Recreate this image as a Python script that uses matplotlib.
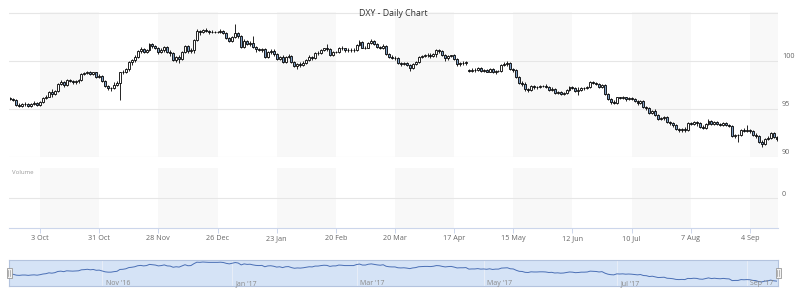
import matplotlib.pyplot as plt
from matplotlib.patches import Rectangle
import matplotlib.transforms as mtransforms
import numpy as np
import pandas as pd

plt.rcParams['font.family'] = ['Open Sans', 'DejaVu Sans']

# daily DXY candles, one row per week (Mon..Fri), 19 Sep 2016 .. 15 Sep 2017
start_date = '2016-09-19'
end_date = '2017-09-15'

opens = [
    96.1, 96.0, 95.9, 95.4, 95.3,   95.5, 95.5, 95.3, 95.5, 95.6,
    95.4, 95.7, 96.1, 96.3, 96.8,   96.6, 96.9, 97.6, 97.8, 97.5,
    98.0, 97.9, 97.8, 97.9, 98.0,   98.6, 98.7, 98.9, 98.6, 98.8,
    98.3, 98.4, 97.9, 97.4, 97.2,   97.2, 97.5, 97.7, 98.8, 98.9,
    99.2, 99.9, 100.1, 100.4, 101.0, 101.2, 100.9, 101.1, 101.8, 101.6,
    101.4, 100.9, 101.1, 101.5, 100.9, 100.8, 100.1, 100.4, 100.2, 100.9,
    101.6, 101.0, 101.1, 102.2, 103.1, 103.0, 103.2, 103.1, 103.0, 103.0,
    103.0, 103.0, 103.1, 102.9, 102.4, 102.1, 102.5, 102.9, 102.6, 101.5,
    102.1, 101.8, 101.9, 101.5, 101.2, 101.1, 101.2, 100.4, 100.9, 101.0,
    100.7, 100.2, 100.4, 99.9, 100.4, 100.5, 99.9, 99.5, 99.7, 99.6,
    99.8, 100.1, 100.4, 100.3, 100.8, 100.8, 101.1, 101.3, 101.2, 100.6,
    100.9, 100.9, 101.4, 101.3, 101.1, 101.1, 101.1, 101.1, 101.7, 102.0,
    101.4, 101.4, 101.9, 102.1, 101.8, 101.5, 101.3, 101.6, 100.7, 100.4,
    100.3, 100.3, 99.8, 99.7, 99.8,  99.6, 99.3, 99.7, 99.9, 100.4,
    100.5, 100.6, 100.6, 100.5, 100.7, 101.1, 101.0, 100.6, 100.3, 100.5,
    100.6, 100.2, 99.7, 99.8, 99.8,  99.1, 99.0, 99.1, 99.1, 99.3,
    99.0, 99.1, 98.9, 99.2, 98.8,   99.0, 99.0, 99.6, 99.7, 99.8,
    99.2, 99.1, 98.3, 97.7, 97.6,   97.1, 97.0, 97.4, 97.3, 97.3,
    97.4, 97.4, 97.3, 97.0, 97.1,   96.7, 96.8, 96.6, 96.7, 97.0,
    97.3, 97.2, 96.9, 97.0, 97.2,   97.2, 97.3, 97.8, 97.7, 97.6,
    97.3, 97.5, 96.6, 96.0, 95.7,   95.6, 96.2, 96.1, 96.2, 96.0,
    96.1, 96.0, 95.8, 95.6, 95.8,   95.2, 95.1, 94.6, 94.8, 94.4,
    94.0, 94.1, 94.2, 93.6, 93.5,   93.3, 92.9, 92.8, 92.9, 92.8,
    93.5, 93.4, 93.6, 93.5, 93.1,   93.0, 93.4, 93.8, 93.4, 93.6,
    93.4, 93.3, 93.5, 93.3, 93.2,   92.2, 92.3, 92.3, 92.8, 92.7,
    92.8, 92.7, 92.3, 92.2, 91.6,   91.4, 91.9, 92.0, 92.5, 92.1,
]
highs = [
    96.2, 96.1, 96.0, 95.6, 95.6,   95.7, 95.6, 95.6, 95.8, 95.7,
    95.8, 96.2, 96.5, 96.9, 97.1,   97.0, 97.7, 98.0, 97.9, 98.1,
    98.1, 98.0, 98.0, 98.1, 98.7,   98.8, 99.0, 99.0, 98.9, 98.9,
    98.6, 98.5, 98.0, 97.5, 97.3,   97.8, 97.9, 98.9, 99.1, 99.3,
    100.0, 100.2, 100.6, 101.1, 101.5, 101.3, 101.2, 101.9, 101.9, 101.7,
    101.5, 101.3, 101.6, 101.6, 101.1, 100.9, 100.5, 100.6, 101.0, 101.7,
    101.7, 101.3, 102.3, 103.3, 103.2, 103.3, 103.4, 103.2, 103.2, 103.1,
    103.1, 103.3, 103.2, 103.0, 102.5, 102.6, 103.8, 103.0, 102.7, 102.3,
    102.2, 102.1, 102.6, 101.6, 101.4, 101.3, 101.3, 101.0, 101.2, 101.2,
    100.8, 100.5, 100.6, 100.5, 100.7, 100.6, 100.0, 99.8, 99.9, 100.0,
    100.2, 100.6, 100.5, 100.9, 101.0, 101.2, 101.4, 101.8, 101.3, 101.0,
    101.0, 101.5, 101.6, 101.4, 101.3, 101.3, 101.3, 101.8, 102.2, 102.1,
    101.6, 102.0, 102.3, 102.2, 101.9, 101.6, 101.8, 101.7, 100.8, 100.6,
    100.5, 100.4, 99.9, 99.9, 99.9,  99.7, 99.8, 100.0, 100.5, 100.6,
    100.7, 100.8, 100.8, 100.8, 101.2, 101.2, 101.1, 100.7, 100.6, 100.6,
    100.7, 100.3, 99.9, 100.0, 100.0, 99.2, 99.3, 99.3, 99.4, 99.4,
    99.2, 99.2, 99.3, 99.3, 99.1,   99.1, 99.7, 99.9, 100.0, 99.9,
    99.3, 99.2, 98.4, 97.9, 97.8,   97.2, 97.5, 97.5, 97.4, 97.5,
    97.5, 97.6, 97.4, 97.3, 97.2,   96.9, 96.9, 96.8, 97.1, 97.4,
    97.4, 97.3, 97.3, 97.3, 97.3,   97.4, 97.9, 97.9, 97.8, 97.7,
    97.6, 97.6, 96.7, 96.1, 95.9,   96.3, 96.3, 96.4, 96.3, 96.2,
    96.2, 96.1, 95.9, 95.9, 95.9,   95.3, 95.2, 94.9, 95.0, 94.5,
    94.2, 94.3, 94.3, 93.8, 93.6,   93.4, 93.0, 93.0, 93.1, 93.6,
    93.6, 93.7, 93.7, 93.6, 93.3,   93.5, 94.0, 93.9, 93.7, 93.7,
    93.5, 93.6, 93.6, 93.4, 93.3,   92.4, 92.4, 92.9, 93.0, 93.3,
    92.9, 92.8, 92.5, 92.3, 91.8,   92.0, 92.2, 92.6, 92.6, 92.2,
]
lows = [
    95.9, 95.8, 95.3, 95.2, 95.2,   95.3, 95.2, 95.2, 95.4, 95.3,
    95.3, 95.6, 96.0, 96.2, 96.3,   96.5, 96.8, 97.5, 97.3, 97.4,
    97.8, 97.6, 97.6, 97.7, 97.9,   98.5, 98.6, 98.5, 98.5, 98.2,
    98.2, 97.8, 97.3, 97.0, 96.9,   97.1, 97.4, 95.9, 98.6, 98.7,
    99.0, 99.6, 99.9, 100.3, 100.8, 100.8, 100.8, 101.0, 101.4, 101.2,
    100.7, 100.8, 100.9, 100.8, 100.5, 100.0, 99.9, 99.8, 100.1, 100.8,
    100.8, 100.8, 100.8, 102.1, 102.7, 102.9, 103.0, 102.8, 102.9, 102.9,
    102.9, 102.9, 102.8, 102.3, 102.0, 102.0, 102.4, 102.4, 101.3, 101.4,
    101.7, 101.6, 101.3, 100.9, 101.0, 100.9, 100.3, 100.3, 100.7, 100.5,
    100.1, 100.1, 99.8, 99.8, 100.3, 99.8, 99.4, 99.2, 99.4, 99.5,
    99.7, 100.0, 100.1, 100.2, 100.6, 100.7, 101.0, 101.0, 100.5, 100.5,
    100.8, 100.8, 101.1, 100.9, 100.9, 100.9, 100.9, 101.0, 101.6, 101.3,
    101.2, 101.3, 101.8, 101.7, 101.3, 101.2, 101.2, 100.6, 100.3, 100.2,
    100.1, 99.7, 99.5, 99.6, 99.5,  99.0, 99.2, 99.6, 99.8, 100.3,
    100.4, 100.4, 100.3, 100.4, 100.4, 100.8, 100.5, 100.0, 100.1, 100.4,
    100.1, 99.5, 99.5, 99.6, 99.6,  98.9, 98.9, 98.9, 99.0, 98.9,
    98.9, 98.8, 98.8, 98.7, 98.6,   98.8, 98.9, 99.5, 99.5, 99.1,
    98.9, 98.2, 97.6, 97.4, 96.9,   96.8, 96.9, 97.1, 97.1, 97.2,
    97.3, 97.2, 96.9, 96.9, 96.6,   96.6, 96.5, 96.5, 96.6, 96.9,
    97.1, 96.8, 96.5, 96.9, 97.0,   97.1, 97.2, 97.6, 97.5, 97.2,
    97.2, 96.5, 95.9, 95.5, 95.5,   95.5, 96.0, 96.0, 95.8, 95.9,
    95.9, 95.7, 95.4, 95.5, 95.1,   94.9, 94.5, 94.5, 94.3, 93.9,
    93.9, 93.9, 93.5, 93.3, 93.1,   92.8, 92.6, 92.6, 92.6, 92.7,
    93.3, 93.3, 93.2, 93.0, 92.9,   92.9, 93.3, 93.3, 93.3, 93.3,
    93.2, 93.2, 93.2, 93.1, 92.1,   92.0, 91.6, 92.2, 92.6, 92.6,
    92.5, 92.2, 92.0, 91.5, 91.0,   91.3, 91.8, 91.9, 92.0, 91.7,
]
closes = [
    96.0, 95.9, 95.4, 95.3, 95.5,   95.5, 95.3, 95.5, 95.6, 95.4,
    95.7, 96.1, 96.3, 96.8, 96.6,   96.9, 97.6, 97.8, 97.5, 98.0,
    97.9, 97.8, 97.9, 98.0, 98.6,   98.7, 98.9, 98.6, 98.8, 98.3,
    98.4, 97.9, 97.4, 97.2, 97.2,   97.5, 97.7, 98.8, 98.9, 99.2,
    99.9, 100.1, 100.4, 101.0, 101.2, 100.9, 101.1, 101.8, 101.6, 101.4,
    100.9, 101.1, 101.5, 100.9, 100.8, 100.1, 100.4, 100.2, 100.9, 101.6,
    101.0, 101.1, 102.2, 103.1, 103.0, 103.2, 103.1, 103.0, 103.0, 103.0,
    103.0, 103.1, 102.9, 102.4, 102.1, 102.5, 102.9, 102.6, 101.5, 102.1,
    101.8, 101.9, 101.5, 101.2, 101.1, 101.2, 100.4, 100.9, 101.0, 100.7,
    100.2, 100.4, 99.9, 100.4, 100.5, 99.9, 99.5, 99.7, 99.6, 99.8,
    100.1, 100.4, 100.3, 100.8, 100.8, 101.1, 101.3, 101.2, 100.6, 100.9,
    100.9, 101.4, 101.3, 101.1, 101.1, 101.1, 101.1, 101.7, 102.0, 101.4,
    101.4, 101.9, 102.1, 101.8, 101.5, 101.3, 101.6, 100.7, 100.4, 100.3,
    100.3, 99.8, 99.7, 99.8, 99.6,  99.3, 99.7, 99.9, 100.4, 100.5,
    100.6, 100.6, 100.5, 100.7, 101.1, 101.0, 100.6, 100.3, 100.5, 100.6,
    100.2, 99.7, 99.8, 99.8, 99.9,  99.0, 99.1, 99.1, 99.3, 99.0,
    99.1, 98.9, 99.2, 98.8, 99.0,   99.0, 99.6, 99.7, 99.8, 99.2,
    99.1, 98.3, 97.7, 97.6, 97.1,   97.0, 97.4, 97.3, 97.3, 97.4,
    97.4, 97.3, 97.0, 97.1, 96.7,   96.8, 96.6, 96.7, 97.0, 97.3,
    97.2, 96.9, 97.0, 97.2, 97.2,   97.3, 97.8, 97.7, 97.6, 97.3,
    97.5, 96.6, 96.0, 95.7, 95.6,   96.2, 96.1, 96.2, 96.0, 96.1,
    96.0, 95.8, 95.6, 95.8, 95.2,   95.1, 94.6, 94.8, 94.4, 94.0,
    94.1, 94.2, 93.6, 93.5, 93.3,   92.9, 92.8, 92.9, 92.8, 93.5,
    93.4, 93.6, 93.5, 93.1, 93.0,   93.4, 93.8, 93.4, 93.6, 93.4,
    93.3, 93.5, 93.3, 93.2, 92.2,   92.3, 92.3, 92.8, 92.7, 92.8,
    92.7, 92.3, 92.2, 91.6, 91.4,   91.9, 92.0, 92.5, 92.1, 91.9,
]

x_tick_dates = ['2016-10-03', '2016-10-31', '2016-11-28', '2016-12-26', '2017-01-23',
                '2017-02-20', '2017-03-20', '2017-04-17', '2017-05-15', '2017-06-12',
                '2017-07-10', '2017-08-07', '2017-09-04']
x_tick_labels = ['3 Oct', '31 Oct', '28 Nov', '26 Dec', '23 Jan', '20 Feb', '20 Mar',
                 '17 Apr', '15 May', '12 Jun', '10 Jul', '7 Aug', '4 Sep']
nav_dates = ['2016-11-01', '2017-01-02', '2017-03-01', '2017-05-01', '2017-07-03', '2017-09-01']
nav_labels = ["Nov '16", "Jan '17", "Mar '17", "May '17", "Jul '17", "Sep '17"]
y_ticks = [90, 95, 100]

dates = pd.bdate_range(start_date, end_date)
n = len(closes)
idx = np.arange(n)
o = np.array(opens)
h = np.array(highs)
l = np.array(lows)
c = np.array(closes)

def pos(d):
    return int(dates.get_indexer([pd.Timestamp(d)])[0])

tick_pos = [pos(d) for d in x_tick_dates]
nav_pos = [pos(d) for d in nav_dates]

W, H = 800, 299
fig = plt.figure(figsize=(W / 100, H / 100), dpi=100)

def px_axes(x0, y0, x1, y1):
    return fig.add_axes([x0 / W, 1 - y1 / H, (x1 - x0) / W, (y1 - y0) / H])

ax = px_axes(9, 12, 778, 157)
axv = px_axes(9, 168, 778, 228)
axn = px_axes(9, 260, 778, 286)

grid_c = '#e6e6e6'
band_c = '#f8f8f8'
lab_c = '#666666'
down_c = '#7f9fc4'

for a in (ax, axv):
    a.set_xlim(-0.5, n - 0.5)
    for s in a.spines.values():
        s.set_visible(False)
    a.set_yticks([])
    # alternating shaded bands between x ticks
    edges = tick_pos + [n - 0.5]
    for k in range(0, len(tick_pos), 2):
        a.axvspan(edges[k], edges[k + 1], color=band_c, lw=0, zorder=0)

# main candle panel
ax.set_ylim(90, 105.1)
ax.set_xticks([])
for v in [90, 95, 100, 105]:
    ax.axhline(v, color=grid_c, lw=0.8, zorder=1)
ylab_tr = mtransforms.blended_transform_factory(ax.transAxes, ax.transData)
for v in y_ticks:
    ax.text(1.005, v + 0.42, str(v), transform=ylab_tr, ha='left', va='center',
            fontsize=5.2, color=lab_c, clip_on=False)

ax.vlines(idx, l, h, color='black', lw=0.6, zorder=2)
up = c >= o
bottoms = np.minimum(o, c)
heights = np.abs(c - o)
ax.bar(idx[up], heights[up], bottom=bottoms[up], width=0.66, color='white',
       edgecolor='black', lw=0.6, zorder=3)
ax.bar(idx[~up], heights[~up], bottom=bottoms[~up], width=0.66, color=down_c,
       edgecolor='black', lw=0.6, zorder=3)

fig.text(393.5 / W, 1 - 13 / H, 'DXY - Daily Chart', ha='center', va='center',
         fontsize=6.3, color='#333333')

# volume panel (empty)
axv.set_ylim(-1, 1)
axv.axhline(0, color=grid_c, lw=0.8, zorder=1)
axv.text(0.004, 0.92, 'Volume', transform=axv.transAxes, ha='left', va='center',
         fontsize=4.3, color='#999999')
vlab_tr = mtransforms.blended_transform_factory(axv.transAxes, axv.transData)
axv.text(1.005, 0.13, '0', transform=vlab_tr, ha='left', va='center',
         fontsize=5.2, color=lab_c, clip_on=False)
axv.spines['bottom'].set_visible(True)
axv.spines['bottom'].set_color('#ccd6eb')
axv.spines['bottom'].set_linewidth(0.8)
axv.set_xticks(tick_pos)
axv.set_xticklabels(x_tick_labels)
axv.tick_params(axis='x', length=3.5, width=0.7, color='#ccd6eb', labelsize=5.2,
                labelcolor=lab_c, pad=1.5)

# navigator
axn.set_xlim(-0.5, n - 0.5)
axn.set_ylim(89.0, 104.4)
axn.set_xticks([])
axn.set_yticks([])
axn.add_patch(Rectangle((0, 0), 1, 1, transform=axn.transAxes,
                        facecolor='#d5e3f6', edgecolor='none', zorder=0))
for p in nav_pos:
    axn.axvline(p, color='#e8eef8', lw=0.7, zorder=1)
axn.plot(idx, c, color='#4a6fb5', lw=0.7, zorder=2)
for s in axn.spines.values():
    s.set_color('#b3c3de')
    s.set_linewidth(0.8)
for p, lab in zip(nav_pos, nav_labels):
    axn.text(p + 1.2, 90.2, lab, ha='left', va='center', fontsize=5, color='#888888', zorder=4)

for hx in (6.5, 775.5):
    fig.add_artist(Rectangle((hx / W, 1 - 278 / H), 5 / W, 10 / H, transform=fig.transFigure,
                             facecolor='#f2f2f2', edgecolor='#999999', lw=0.6))
    for dx in (1.8, 3.2):
        fig.add_artist(plt.Line2D([(hx + dx) / W] * 2, [1 - 276 / H, 1 - 270 / H],
                                  transform=fig.transFigure, color='#999999', lw=0.5))

fig.savefig('out.png', dpi=100)
